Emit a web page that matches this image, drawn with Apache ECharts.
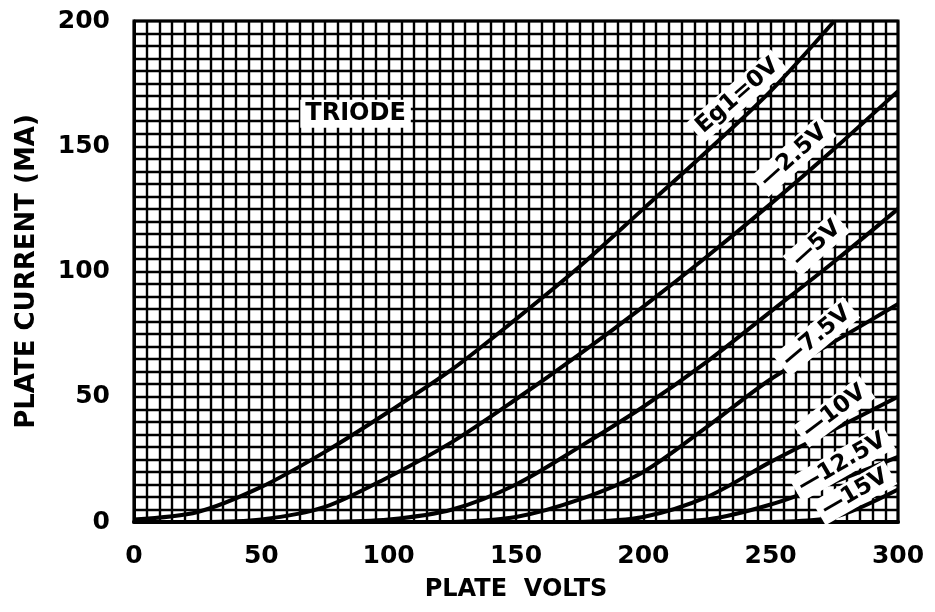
<!DOCTYPE html>
<html>
<head>
<meta charset="utf-8">
<script src="https://cdn.jsdelivr.net/npm/echarts@6/dist/echarts.min.js"></script>
<style>
  html, body { margin: 0; padding: 0; background: #fff; }
  #chart { width: 935px; height: 612px; }
</style>
</head>
<body>
<div id="chart"></div>
<script>
// plate volts sampled every 25 V
const volts = [0, 25, 50, 75, 100, 125, 150, 175, 200, 225, 250, 275, 300]

// plate current (mA) for each grid bias
const eg0 = [1, 4, 14, 28, 44, 61, 81, 102, 125, 148, 172, 200, null]
const eg2p5 = [null, 0, 1, 6, 18, 32, 49, 67, 86, 106, 127, 149, 172]
const eg5 = [null, null, null, 0, 1, 5, 15, 30, 46, 64, 84, 104, 125]
const eg7p5 = [null, null, null, null, null, 0, 2, 9, 20, 38, 57, 72, 87]
const eg10 = [null, null, null, null, null, null, null, 0, 2, 10, 24, 37, 50]
const eg12p5 = [null, null, null, null, null, null, null, null, 0, 1, 7, 16, 26]
const eg15 = [null, null, null, null, null, null, null, null, null, null, 0, 2, 13]

const xTicks = [0, 50, 100, 150, 200, 250, 300]
const yTicks = [0, 50, 100, 150, 200]

const curveNames = ['Eg1=0V', '—2.5V', '—5V', '—7.5V', '—10V', '—12.5V', '—15V']
const curves = [eg0, eg2p5, eg5, eg7p5, eg10, eg12p5, eg15]

// where the curve tags sit, in volts / mA, and their slant
const tagVolts = [237, 259, 268, 268, 275, 278, 283]
const tagAmps = [170, 146, 111, 74, 44, 23.5, 11.6]
const tagAngle = [41, 42, 42, 40, 37, 30, 30]

const FONT = '"DejaVu Sans", sans-serif'

const chart = echarts.init(document.getElementById('chart'))

const pairs = (ys) => volts.map((v, i) => [v, ys[i]]).filter((p) => p[1] !== null)

chart.setOption({
  animation: false,
  backgroundColor: '#fff',
  grid: {
    left: 134, right: 37, top: 21, bottom: 90,
    show: true, borderColor: '#000', borderWidth: 3
  },
  xAxis: {
    type: 'value', min: 0, max: 300, interval: 5,
    name: 'PLATE  VOLTS', nameLocation: 'middle', nameGap: 56,
    nameTextStyle: { fontFamily: FONT, fontWeight: 'bold', fontSize: 24, color: '#000' },
    axisLine: { show: true, lineStyle: { color: '#000', width: 4 } },
    axisTick: { show: false },
    axisLabel: {
      margin: 22, fontFamily: FONT, fontWeight: 'bold', fontSize: 25, color: '#000',
      formatter: (v) => (xTicks.includes(v) ? String(v) : '')
    },
    splitLine: { show: true, lineStyle: { color: '#000', width: 2.4 } }
  },
  yAxis: {
    type: 'value', min: 0, max: 200, interval: 5,
    name: 'PLATE CURRENT (MA)', nameLocation: 'middle', nameGap: 94, nameRotate: 90,
    nameTextStyle: { fontFamily: FONT, fontWeight: 'bold', fontSize: 26, color: '#000' },
    axisLine: { show: true, lineStyle: { color: '#000', width: 3 } },
    axisTick: { show: false },
    axisLabel: {
      margin: 24, fontFamily: FONT, fontWeight: 'bold', fontSize: 25, color: '#000',
      formatter: (v) => (yTicks.includes(v) ? String(v) : '')
    },
    splitLine: { show: true, lineStyle: { color: '#000', width: 2.4 } }
  },
  series: curves.map((ys, i) => ({
    name: curveNames[i],
    type: 'line',
    data: pairs(ys),
    smooth: 0.3,
    symbol: 'none',
    clip: true,
    lineStyle: { color: '#000', width: 4 },
    z: 5
  }))
})

const tag = (text, v, a, deg, size) => {
  const [x, y] = chart.convertToPixel({ gridIndex: 0 }, [v, a])
  return {
    type: 'text', x, y, z: 100,
    rotation: (deg * Math.PI) / 180,
    style: {
      text, fill: '#000', align: 'center', verticalAlign: 'middle',
      font: `bold ${size}px ${FONT}`,
      backgroundColor: '#fff', padding: [2, 5]
    }
  }
}

const tags = curveNames.map((n, i) => tag(n, tagVolts[i], tagAmps[i], tagAngle[i], 23))
tags.push(tag('TRIODE', 87, 163, 0, 24))

chart.setOption({ graphic: tags })
</script>
</body>
</html>
